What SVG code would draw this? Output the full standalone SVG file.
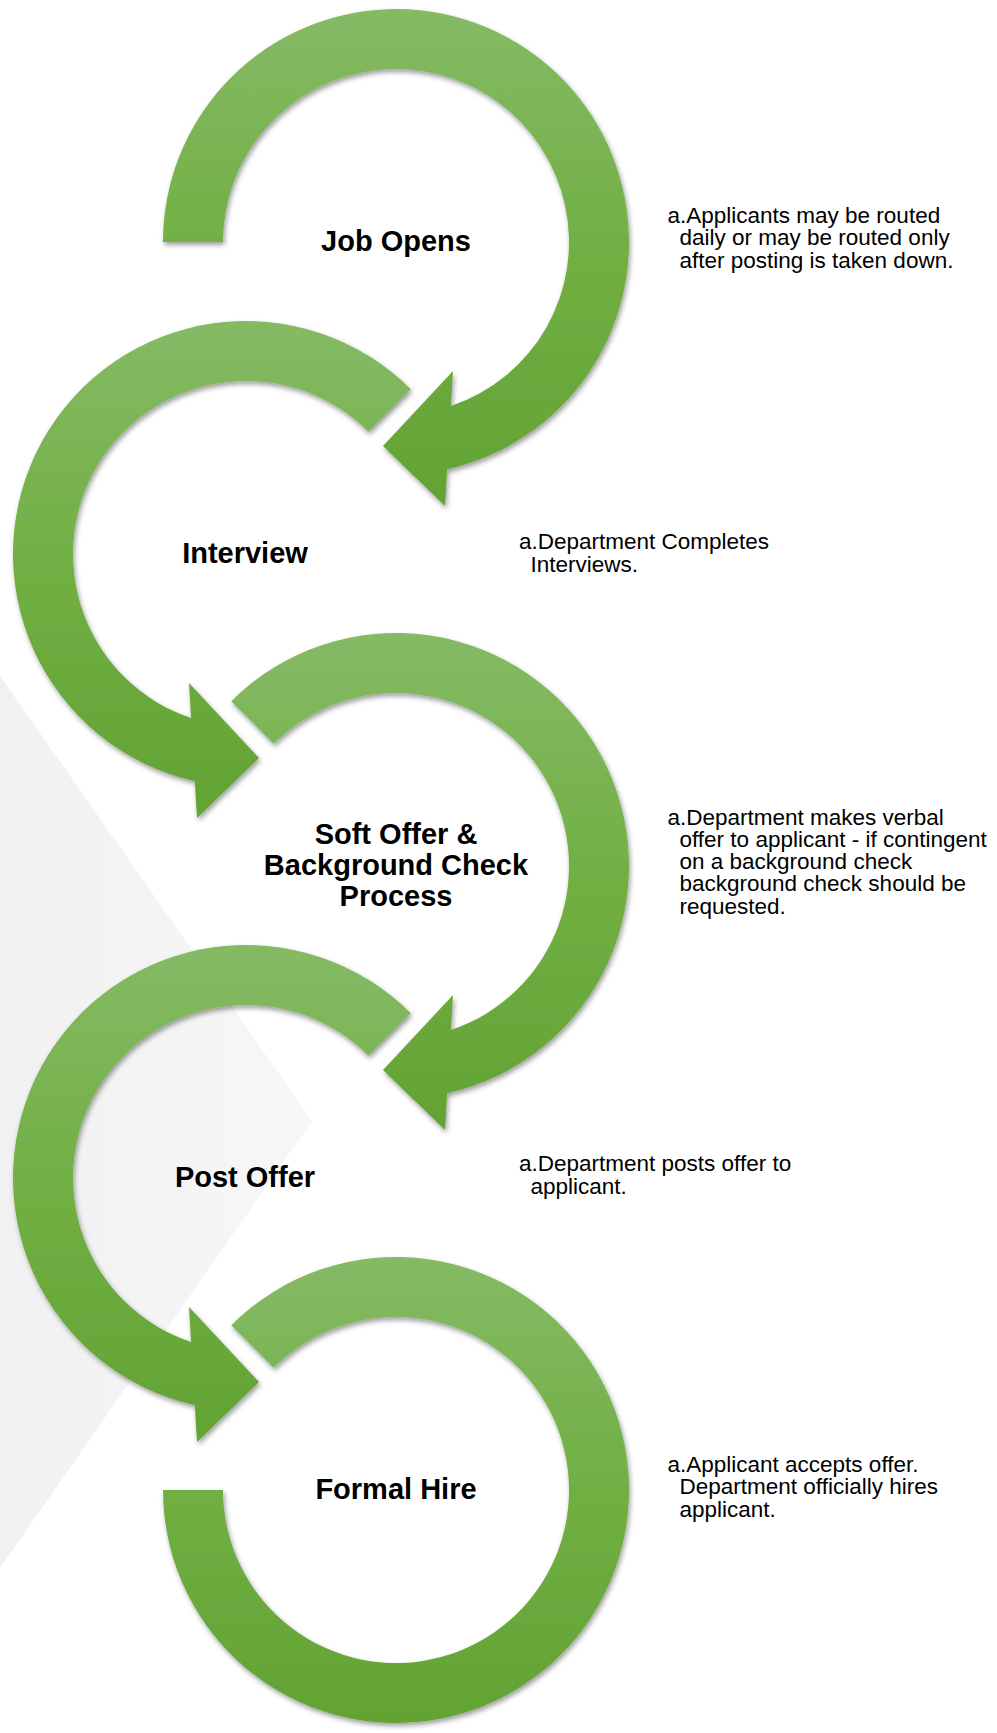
<svg xmlns="http://www.w3.org/2000/svg" width="997" height="1733" viewBox="0 0 997 1733">
  <defs>
    <!-- green fill, lighter at the top of each ring, darker at the bottom -->
    <linearGradient id="ringFill" x1="0" y1="0" x2="0" y2="1">
      <stop offset="0" stop-color="#85BA65"/>
      <stop offset="0.5" stop-color="#71AF43"/>
      <stop offset="1" stop-color="#62A334"/>
    </linearGradient>
    <linearGradient id="chevronFill" x1="0" y1="0" x2="1" y2="0">
      <stop offset="0" stop-color="#f1f1f1"/>
      <stop offset="1" stop-color="#f7f7f7"/>
    </linearGradient>
    <filter id="softShadow" x="-10%" y="-10%" width="120%" height="120%">
      <feDropShadow dx="1.5" dy="3" stdDeviation="2.8" flood-color="#000" flood-opacity="0.38"/>
    </filter>
  </defs>
  <style>
    .ring { fill: url(#ringFill); filter: url(#softShadow); }
    .label { font-family: "Liberation Sans", Arial, sans-serif; font-weight: bold; font-size: 29px; fill: #000; text-anchor: middle; }
    .note { font-family: "Liberation Sans", Arial, sans-serif; font-size: 22.5px; fill: #000; }
  </style>

  <rect x="0" y="0" width="997" height="1733" fill="#ffffff"/>
  <!-- pale chevron in the background -->
  <polygon points="0,676 312,1121 0,1568" fill="url(#chevronFill)"/>

  <!-- step 1: clockwise ring opening at the left, head pointing into step 2 -->
  <g id="step-job-opens">
    <path class="ring" d="M 163,242 A 233 233 0 1 1 447.17,469.31 L 445,506 L 383,446 L 453,371 L 450.92,406.05 A 173 173 0 1 0 223,242 Z"/>
    <text class="label" x="396" y="251">Job Opens</text>
    <text class="note" x="667.5" y="222.5">a.Applicants may be routed<tspan x="679.5" dy="22.5">daily or may be routed only</tspan><tspan x="679.5" dy="22.5">after posting is taken down.</tspan></text>
  </g>

  <!-- step 2: counter-clockwise ring -->
  <g id="step-interview">
    <path class="ring" d="M 410.76,389.24 A 233 233 0 1 0 194.83,781.31 L 197,818 L 259,758 L 189,683 L 191.08,718.05 A 173 173 0 1 1 368.33,431.67 Z"/>
    <text class="label" x="245" y="563">Interview</text>
    <text class="note" x="519" y="549">a.Department Completes<tspan x="530.5" dy="22.5">Interviews.</tspan></text>
  </g>

  <!-- step 3: clockwise ring -->
  <g id="step-soft-offer">
    <path class="ring" d="M 231.24,701.24 A 233 233 0 1 1 447.17,1093.31 L 445,1130 L 383,1070 L 453,995 L 450.92,1030.05 A 173 173 0 1 0 273.67,743.67 Z"/>
    <text class="label" x="396" y="844">Soft Offer &amp;<tspan x="396" dy="31">Background Check</tspan><tspan x="396" dy="31">Process</tspan></text>
    <text class="note" x="667.5" y="824.5">a.Department makes verbal<tspan x="679.5" dy="22.3">offer to applicant - if contingent</tspan><tspan x="679.5" dy="22.3">on a background check</tspan><tspan x="679.5" dy="22.3">background check should be</tspan><tspan x="679.5" dy="22.3">requested.</tspan></text>
  </g>

  <!-- step 4: counter-clockwise ring -->
  <g id="step-post-offer">
    <path class="ring" d="M 410.76,1013.24 A 233 233 0 1 0 194.83,1405.31 L 197,1442 L 259,1382 L 189,1307 L 191.08,1342.05 A 173 173 0 1 1 368.33,1055.67 Z"/>
    <text class="label" x="245" y="1187">Post Offer</text>
    <text class="note" x="519" y="1171">a.Department posts offer to<tspan x="530.5" dy="22.5">applicant.</tspan></text>
  </g>

  <!-- step 5: closing ring, no arrowhead -->
  <g id="step-formal-hire">
    <path class="ring" d="M 231.24,1325.24 A 233 233 0 1 1 163,1490 L 223,1490 A 173 173 0 1 0 273.67,1367.67 Z"/>
    <text class="label" x="396" y="1499">Formal Hire</text>
    <text class="note" x="667.5" y="1471.5">a.Applicant accepts offer.<tspan x="679.5" dy="22.5">Department officially hires</tspan><tspan x="679.5" dy="22.5">applicant.</tspan></text>
  </g>
</svg>
